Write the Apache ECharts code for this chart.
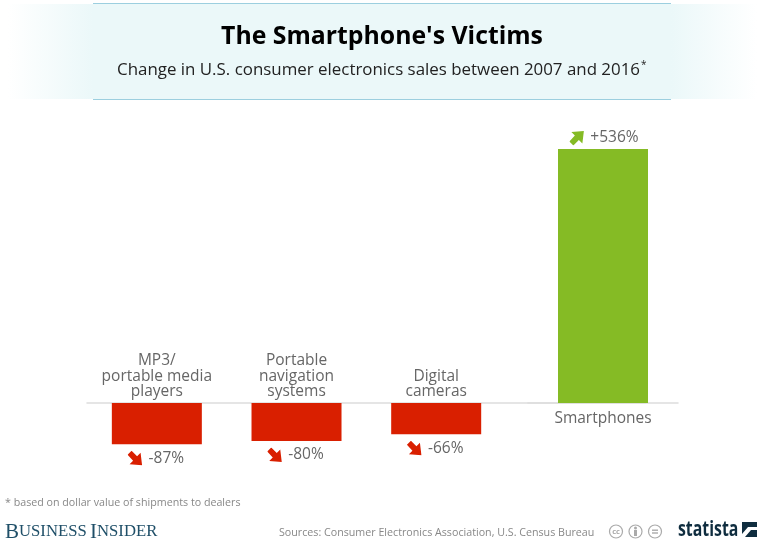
<!DOCTYPE html>
<html>
<head>
<meta charset="utf-8">
<style>
  html, body { margin: 0; padding: 0; background: #fff; }
  #chart { width: 765px; height: 544px; }
</style>
<script src="https://cdn.jsdelivr.net/npm/echarts@6/dist/echarts.min.js"></script>
</head>
<body>
<div id="chart"></div>
<script>
// values (percent change 2007-2016)
const victimCategories = ['MP3/\nportable media\nplayers', 'Portable\nnavigation\nsystems', 'Digital\ncameras'];
const victimValues = [-87, -80, -66];
const winnerCategories = ['Smartphones'];
const winnerValues = [536];

const FONT = '"Open Sans", sans-serif';
const RED = '#d91f00';
const GREEN = '#85bb25';
const GREY = '#666';

function arrowUri (color, up) {
    const path = up
        ? 'M0 11 L4 15 L9.5 9.5 L13 13 L14.5 0.5 L2 1.5 L5.5 5 Z'
        : 'M0 4 L4 0 L9.5 5.5 L13 2 L14.5 14.5 L2 13.5 L5.5 10 Z';
    const svg = '<svg xmlns="http://www.w3.org/2000/svg" width="15" height="15" viewBox="0 0 15 15"><path d="' + path + '" fill="' + color + '"/></svg>';
    return 'data:image/svg+xml;charset=utf-8,' + encodeURIComponent(svg);
}

function pct (v) {
    return (v > 0 ? '+' : '') + v + '%';
}

// both grids share one y scale: -100..536 over the same pixels
const Y_TOP = 149, Y_HEIGHT = 301.4;
const yScale = { type: 'value', min: -100, max: 536, show: false };

function barLabel (position, key, offset) {
    return {
        show: true,
        position: position,
        distance: 5,
        offset: offset,
        formatter: function (p) { return '{' + key + '|}{txt|' + pct(p.value) + '}'; },
        rich: {
            down: { width: 15, height: 15, backgroundColor: { image: arrowUri(RED, false) } },
            up: { width: 15, height: 15, backgroundColor: { image: arrowUri(GREEN, true) } },
            txt: { fontFamily: FONT, fontSize: 15.5, color: GREY, padding: [0, 0, 0, 6] }
        }
    };
}

// the labels are measured from the grid's bottom edge, not from the zero line
function xAxisBase (grid, data, inside, margin) {
    return {
        type: 'category',
        gridIndex: grid,
        data: data,
        axisTick: { show: false },
        axisLine: { onZero: true, lineStyle: { color: '#ddd', width: 1.5 } },
        axisLabel: {
            inside: inside,
            interval: 0,
            margin: margin,
            color: GREY,
            fontFamily: FONT,
            fontSize: 15.5,
            lineHeight: 15.5
        }
    };
}

const chart = echarts.init(document.getElementById('chart'));

chart.setOption({
    animation: false,
    backgroundColor: '#fff',
    grid: [
        // the empty fourth slot only carries the axis line on to the right
        { left: 87, top: Y_TOP, width: 558.7, height: Y_HEIGHT },
        { left: 528, top: Y_TOP, width: 150, height: Y_HEIGHT }
    ],
    xAxis: [
        xAxisBase(0, victimCategories.concat(['']), true, 51),
        xAxisBase(1, winnerCategories, false, -40)
    ],
    yAxis: [
        Object.assign({ gridIndex: 0 }, yScale),
        Object.assign({ gridIndex: 1 }, yScale)
    ],
    series: [
        {
            type: 'bar',
            xAxisIndex: 0,
            yAxisIndex: 0,
            barWidth: 90,
            data: victimValues,
            itemStyle: { color: RED },
            label: barLabel('bottom', 'down', [-1, 1])
        },
        {
            type: 'bar',
            xAxisIndex: 1,
            yAxisIndex: 1,
            barWidth: 90,
            data: winnerValues,
            itemStyle: { color: GREEN },
            label: barLabel('top', 'up', [1, 2])
        }
    ],
    graphic: [
        // header band
        { type: 'rect', z: -2, shape: { x: 8, y: 4, width: 85, height: 95 },
          style: { fill: new echarts.graphic.LinearGradient(0, 0, 1, 0, [{ offset: 0, color: '#ffffff' }, { offset: 1, color: '#ebf8f9' }]) } },
        { type: 'rect', z: -2, shape: { x: 93, y: 4, width: 578, height: 95 }, style: { fill: '#ebf8f9' } },
        { type: 'rect', z: -2, shape: { x: 671, y: 4, width: 86, height: 95 },
          style: { fill: new echarts.graphic.LinearGradient(0, 0, 1, 0, [{ offset: 0, color: '#ebf8f9' }, { offset: 1, color: '#ffffff' }]) } },
        { type: 'line', shape: { x1: 93, y1: 3.5, x2: 671, y2: 3.5 }, style: { stroke: '#9ccfdf', lineWidth: 1 } },
        { type: 'line', shape: { x1: 93, y1: 99.5, x2: 671, y2: 99.5 }, style: { stroke: '#9ccfdf', lineWidth: 1 } },
        // titles
        { type: 'text', x: 382, y: 37, style: { text: "The Smartphone's Victims", fill: '#000', font: 'bold 24.8px ' + FONT, textAlign: 'center', textVerticalAlign: 'middle' } },
        { type: 'text', x: 117, y: 70, style: { text: 'Change in U.S. consumer electronics sales between 2007 and 2016', fill: '#222', font: '16.9px ' + FONT, textVerticalAlign: 'middle' } },
        { type: 'text', x: 641, y: 65, style: { text: '*', fill: '#222', font: '10px ' + FONT, textVerticalAlign: 'middle' } },
        // footer
        { type: 'text', x: 5, y: 503, style: { text: '* based on dollar value of shipments to dealers', fill: '#888', font: '10.7px ' + FONT, textVerticalAlign: 'middle' } },
        { type: 'text', x: 5, y: 532, style: { text: '{b|B}{s|USINESS} {b|I}{s|NSIDER}', textVerticalAlign: 'middle',
            rich: {
                b: { fontFamily: '"Liberation Serif", serif', fontSize: 21, fill: '#1f4f68', color: '#1f4f68' },
                s: { fontFamily: '"Liberation Serif", serif', fontSize: 16.7, fill: '#1f4f68', color: '#1f4f68' }
            } } },
        { type: 'text', x: 279, y: 533, style: { text: 'Sources: Consumer Electronics Association, U.S. Census Bureau', fill: '#888', font: '10.7px ' + FONT, textVerticalAlign: 'middle' } },
        // licence icons
        { type: 'circle', shape: { cx: 616, cy: 531.5, r: 6.5 }, style: { fill: 'none', stroke: '#aaa', lineWidth: 1.2 } },
        { type: 'text', x: 616, y: 531.5, style: { text: 'cc', fill: '#aaa', font: 'bold 7.5px ' + FONT, textAlign: 'center', textVerticalAlign: 'middle' } },
        { type: 'circle', shape: { cx: 635.5, cy: 531.5, r: 6.5 }, style: { fill: 'none', stroke: '#aaa', lineWidth: 1.2 } },
        { type: 'circle', shape: { cx: 635.5, cy: 528, r: 1.5 }, style: { fill: '#aaa' } },
        { type: 'rect', shape: { x: 634, y: 530, width: 3, height: 6 }, style: { fill: '#aaa' } },
        { type: 'circle', shape: { cx: 655, cy: 531.5, r: 6.5 }, style: { fill: 'none', stroke: '#aaa', lineWidth: 1.2 } },
        { type: 'rect', shape: { x: 652, y: 529.5, width: 6, height: 1.4 }, style: { fill: '#aaa' } },
        { type: 'rect', shape: { x: 652, y: 532.3, width: 6, height: 1.4 }, style: { fill: '#aaa' } },
        // statista logo
        { type: 'text', x: 678, y: 530, scaleX: 0.72, style: { text: 'statista', fill: '#0f2d3f', font: 'bold 22px ' + FONT, textVerticalAlign: 'middle' } },
        { type: 'rect', shape: { x: 742, y: 522, width: 15, height: 15 }, style: { fill: '#0f2d3f' } },
        { type: 'polygon', shape: { points: [[742, 534], [748, 527], [757, 527], [757, 530], [751, 530], [745, 537], [742, 537]] }, style: { fill: '#fff' } }
    ]
});
</script>
</body>
</html>
